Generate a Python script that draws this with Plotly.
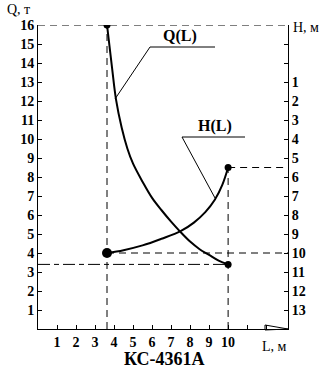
import plotly.graph_objects as go

# ---------------- data ----------------
L_q = [3.63, 3.9, 4.1, 4.4, 4.7, 5.0, 5.5, 6.0, 6.5, 7.0, 7.5, 8.0, 8.5, 9.0, 9.5, 10.0]
Q_vals = [16.0, 13.7, 12.1, 10.6, 9.5, 8.7, 7.75, 6.9, 6.25, 5.65, 5.1, 4.6, 4.2, 3.9, 3.6, 3.4]

L_h = [3.63, 4.5, 5.5, 6.5, 7.5, 8.2, 8.8, 9.3, 9.7, 10.0]
H_vals = [10.0, 9.85, 9.6, 9.25, 8.85, 8.4, 7.85, 7.2, 6.4, 5.5]

x_ticks = list(range(1, 13))
x_ticklabels = [str(v) if v <= 10 else "" for v in x_ticks]
q_ticks = list(range(1, 17))
q_ticklabels = [str(v) for v in q_ticks]
h_ticks = list(range(-1, 14))
h_ticklabels = [str(v) if v >= 1 else "" for v in h_ticks]

title_text = "КС-4361А"

# ---------------- layout geometry ----------------
W, H = 332, 372
ML, MR, MT, MB = 38, 44, 25, 43
X_RANGE = [0, 13.15]
Q_RANGE = [0, 16]
H_RANGE = [14, -2]
PW = W - ML - MR
PH = H - MT - MB


def paper(px, py):
    return (px - ML) / PW, (H - MB - py) / PH


SERIF = "Liberation Serif"
BOLD_TICK = dict(family=SERIF, size=14, color="black", weight="bold")

fig = go.Figure()

fig.add_trace(go.Scatter(x=L_q, y=Q_vals, mode="lines", line=dict(color="black", width=2, shape="spline"),
                         showlegend=False, hoverinfo="skip"))
fig.add_trace(go.Scatter(x=L_h, y=H_vals, mode="lines", yaxis="y2",
                         line=dict(color="black", width=2, shape="spline"),
                         showlegend=False, hoverinfo="skip"))
fig.add_trace(go.Scatter(x=[L_q[0], L_q[-1]], y=[Q_vals[0], Q_vals[-1]], mode="markers",
                         marker=dict(color="black", size=7, opacity=1, line=dict(width=0)),
                         showlegend=False, hoverinfo="skip"))
fig.add_trace(go.Scatter(x=[L_h[0], L_h[-1]], y=[H_vals[0], H_vals[-1]], mode="markers", yaxis="y2",
                         marker=dict(color="black", size=[10, 7], opacity=1, line=dict(width=0)),
                         showlegend=False, hoverinfo="skip"))

dash = "7px,5px"
thin = dict(color="black", width=1, dash=dash)
shapes = [
    dict(type="line", xref="x domain", yref="y", x0=0, x1=1, y0=Q_vals[0], y1=Q_vals[0], line=thin),
    dict(type="line", xref="x", yref="y", x0=L_q[0], x1=L_q[0], y0=0, y1=Q_vals[0], line=thin),
    dict(type="line", xref="x", yref="y2", x0=L_h[-1], x1=L_h[-1], y0=H_RANGE[0], y1=H_vals[-1], line=thin),
    dict(type="line", xref="x", yref="y2", x0=L_h[-1], x1=X_RANGE[1], y0=H_vals[-1], y1=H_vals[-1], line=thin),
    dict(type="line", xref="x", yref="y2", x0=L_h[0], x1=X_RANGE[1], y0=H_vals[0], y1=H_vals[0], line=thin),
    dict(type="line", xref="x", yref="y", x0=0, x1=L_q[-1], y0=Q_vals[-1], y1=Q_vals[-1],
         line=dict(color="black", width=1, dash="12px,4px,5px,4px")),
]


def seg(p1, p2):
    a = paper(*p1)
    b = paper(*p2)
    return dict(type="line", xref="paper", yref="paper", x0=a[0], y0=a[1], x1=b[0], y1=b[1],
                line=dict(color="black", width=1))


shapes += [
    seg((150, 47), (215, 47)),
    seg((150, 47), (115, 99)),
    seg((182, 137), (245, 137)),
    seg((182, 137), (215, 198)),
]
a = paper(265, 325)
b = paper(288, 329)
c = paper(265, 330)
shapes.append(dict(type="path", xref="paper", yref="paper",
                   path=f"M {a[0]},{a[1]} L {b[0]},{b[1]} L {c[0]},{c[1]} Z",
                   line=dict(color="black", width=1)))


def ann(text, px, py, size=14, bold=False, xanchor="center"):
    x, y = paper(px, py)
    return dict(text=text, x=x, y=y, xref="paper", yref="paper", showarrow=False,
                xanchor=xanchor, yanchor="middle",
                font=dict(family=SERIF, size=size, color="black", weight="bold" if bold else "normal"))


annotations = [
    ann("Q(L)", 180, 36, size=16, bold=True),
    ann("H(L)", 215, 126, size=16, bold=True),
    ann("Q, т", 18, 10, size=14),
    ann("H, м", 291, 28, size=14, xanchor="left"),
    ann("L, м", 274, 346, size=14),
    ann(title_text, 164, 359, size=18, bold=True),
]

axis_common = dict(ticks="inside", ticklen=4, tickcolor="black", showline=True, linecolor="black",
                   linewidth=1, showgrid=False, zeroline=False, tickfont=BOLD_TICK, fixedrange=True,
                   automargin=False)

fig.update_layout(
    width=W, height=H,
    margin=dict(l=ML, r=MR, t=MT, b=MB, autoexpand=False),
    paper_bgcolor="white", plot_bgcolor="white",
    showlegend=False,
    shapes=shapes,
    annotations=annotations,
    xaxis=dict(range=X_RANGE, tickvals=x_ticks, ticktext=x_ticklabels, **axis_common),
    yaxis=dict(range=Q_RANGE, tickvals=q_ticks, ticktext=q_ticklabels, **axis_common),
    yaxis2=dict(range=H_RANGE, overlaying="y", side="right", anchor="x", tickvals=h_ticks,
                ticktext=h_ticklabels, **axis_common),
)

fig.write_html("out.html", config={"displayModeBar": False},
               post_script="document.body.style.margin='0';document.body.style.padding='0';")
